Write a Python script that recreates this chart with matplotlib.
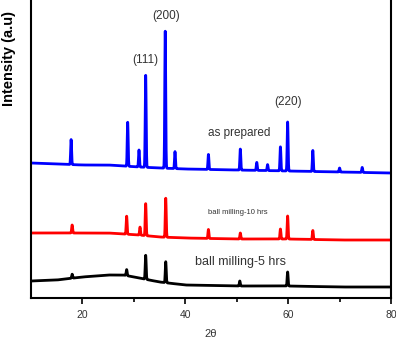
import numpy as np
import matplotlib
matplotlib.use("Agg")
import matplotlib.pyplot as plt

plt.rcParams['font.family'] = ['Liberation Sans', 'DejaVu Sans']

# -------- data (arbitrary intensity units) --------
two_theta = np.linspace(10, 80, 3501)

# baseline control points (2theta, level)
base_x = [10, 15, 20, 25, 28, 31, 35, 40, 50, 60, 70, 80]
base_black = [17, 18, 21, 23, 23, 20, 16, 13, 12, 12, 11, 11]
base_red = [65, 65, 65, 65, 64, 63, 61, 60, 59, 59, 58, 58]
base_blue = [135, 134, 133, 133, 132, 131, 130, 129, 128, 127, 126, 125]

# peaks: position, height above baseline
peaks_black_pos = [18.0, 28.6, 32.3, 36.2, 50.6, 59.9]
peaks_black_h = [4, 6, 24, 21, 5, 14]

peaks_red_pos = [18.0, 28.6, 31.2, 32.3, 36.2, 44.5, 50.7, 58.5, 59.9, 64.8]
peaks_red_h = [8, 18, 8, 32, 39, 9, 6, 10, 23, 9]

peaks_blue_pos = [17.8, 28.8, 31.0, 32.3, 36.1, 38.0, 44.5, 50.7, 53.9, 56.0,
                  58.5, 59.9, 64.8, 70.0, 74.4]
peaks_blue_h = [25, 44, 17, 92, 137, 17, 15, 21, 8, 6, 24, 49, 21, 4, 5]

planes = ["(111)", "(200)", "(220)"]
planes_pos = [32.3, 36.2, 59.9]
planes_y = [238, 282, 196]


def trace(base, pos, hts):
    y = np.interp(two_theta, base_x, base)
    for p, h in zip(pos, hts):
        y = y + h * np.exp(-0.5 * ((two_theta - p) / 0.09) ** 2)
    return y


fig = plt.figure(figsize=(3.96, 3.40), dpi=100)
ax = fig.add_axes([31 / 396, 42 / 340, 360 / 396, 320 / 340])

ax.plot(two_theta, trace(base_black, peaks_black_pos, peaks_black_h), color="black", lw=2)
ax.plot(two_theta, trace(base_red, peaks_red_pos, peaks_red_h), color="#ff0000", lw=2)
ax.plot(two_theta, trace(base_blue, peaks_blue_pos, peaks_blue_h), color="#0000ff", lw=2)

txt = "#333333"
for lab, p, yy in zip(planes, planes_pos, planes_y):
    ax.text(p, yy, lab, ha="center", va="center", fontsize=8.5, color=txt)

ax.text(50.5, 165, "as prepared", ha="center", va="center", fontsize=8.5, color=txt)
ax.text(50.2, 86, "ball milling-10 hrs", ha="center", va="center", fontsize=5.5, color=txt)
ax.text(50.8, 36, "ball milling-5 hrs", ha="center", va="center", fontsize=9, color=txt)

ax.set_xlim(10, 80)
ax.set_ylim(0, 320)
ax.set_xticks([20, 40, 60, 80])
ax.set_xticks([30, 50, 70], minor=True)
ax.set_yticks([])
ax.tick_params(axis="x", which="major", direction="out", length=4, width=1.2,
               labelsize=7.5, labelcolor=txt, pad=5)
ax.tick_params(axis="x", which="minor", direction="out", length=3, width=1.2)
for s in ax.spines.values():
    s.set_linewidth(1.5)
ax.spines["top"].set_visible(False)

ax.set_xlabel("2θ", fontsize=8, color=txt, labelpad=6)
ax.set_ylabel("Intensity (a.u)", fontsize=10.5, fontweight="bold")
ax.yaxis.set_label_coords(-0.042, 0.75)

fig.savefig("out.png", dpi=100)
plt.close(fig)
